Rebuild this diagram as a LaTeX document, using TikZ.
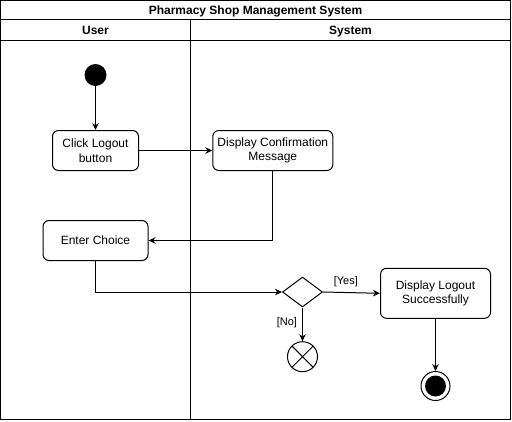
\documentclass[tikz,border=0pt]{standalone}
\usepackage{fontspec}
\setmainfont{Liberation Sans}
\usetikzlibrary{shapes.geometric,arrows.meta}
\tikzset{
  lane/.style={draw=black,line width=1pt},
  hdr/.style={font=\bfseries\fontsize{12}{14}\selectfont,anchor=base,inner sep=0pt},
  act/.style={draw=black,line width=1pt,rounded corners=6pt,align=center,font=\fontsize{12}{14.5}\selectfont,inner sep=0pt},
  flow/.style={draw=black,line width=1pt,-{Stealth[length=7pt,width=6.5pt]}},
  glabel/.style={font=\fontsize{11}{13}\selectfont,inner sep=0pt},
}
\begin{document}
\begin{tikzpicture}[x=1pt,y=-1pt]
\useasboundingbox (0,0) rectangle (512,421);
% frame and swimlanes
\draw[lane] (0.5,0.5) rectangle (510.5,419.5);
\draw[lane] (0.5,19.5) -- (510.5,19.5);
\draw[lane] (0.5,40.5) -- (510.5,40.5);
\draw[lane] (190.5,19.5) -- (190.5,419.5);
\node[hdr] (title) at (255.5,14.3) {Pharmacy Shop Management System};
\node[hdr] (luser) at (95.5,34) {User};
\node[hdr] (lsys) at (350.5,34) {System};
% nodes
\node[circle,fill=black,minimum size=22pt,inner sep=0pt] (start) at (95.5,75) {};
\node[act,minimum width=86pt,minimum height=40pt] (click) at (95.5,150.5) {Click Logout\\button};
\node[act,minimum width=120pt,minimum height=40pt] (confirm) at (272.8,150.5) {Display Confirmation\\Message};
\node[act,minimum width=105pt,minimum height=40pt] (enter) at (95.5,240.5) {Enter Choice};
\node[diamond,draw=black,line width=1pt,minimum width=40pt,minimum height=30pt,inner sep=0pt,aspect=1.33] (dec) at (302.5,292) {};
\node[act,minimum width=110pt,minimum height=50pt] (logout) at (435.5,293.3) {Display Logout\\Successfully};
\node[circle,draw=black,line width=1pt,minimum size=30pt,inner sep=0pt,
  path picture={\draw[line width=1pt] (path picture bounding box.south west) -- (path picture bounding box.north east)
  (path picture bounding box.north west) -- (path picture bounding box.south east);}] (ff) at (302.5,356.7) {};
\node[circle,draw=black,line width=1pt,minimum size=29pt,inner sep=0pt] (end) at (435.5,386) {};
\node[circle,fill=black,minimum size=21pt,inner sep=0pt] (endin) at (end.center) {};
% connectors
\draw[flow] (start) -- (click);
\draw[flow] (click) -- (confirm);
\draw[flow] (confirm.south) |- (enter.east);
\draw[flow] (enter.south) |- (dec.west);
\draw[flow] (dec.east) -- node[glabel,above=5pt,pos=0.4] (yes) {[Yes]} (logout.west);
\draw[flow] (dec.south) -- node[glabel,left=5pt,pos=0.45] (no) {[No]} (ff.north);
\draw[flow] (logout.south) -- (end.north);
\end{tikzpicture}
\end{document}
